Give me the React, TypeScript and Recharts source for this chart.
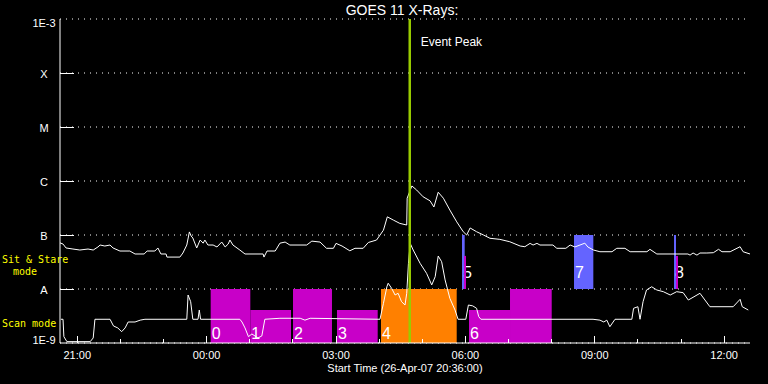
import { ComposedChart, Line, XAxis, YAxis, CartesianGrid, ReferenceArea, ReferenceLine } from "recharts";

// hours since start (26-Apr-07 20:36), flux in W/m^2
const longChannel: [number, number][] = [
  [0, 7.15e-8], [0.07, 6.8e-8], [0.14, 5.75e-8], [0.3, 5.5e-8], [0.46, 5.27e-8], [0.65, 5.5e-8],
  [0.77, 5.27e-8], [0.88, 6.0e-8], [0.93, 6.52e-8], [1.04, 6.25e-8], [1.16, 6.52e-8], [1.23, 5.75e-8],
  [1.39, 5.05e-8], [1.62, 5.05e-8], [1.74, 4.45e-8], [1.95, 4.45e-8], [2.02, 5.05e-8], [2.2, 5.05e-8],
  [2.27, 5.75e-8], [2.34, 4.45e-8], [2.46, 4.45e-8], [2.48, 3.9e-8], [2.78, 3.9e-8], [2.85, 4.64e-8],
  [2.94, 6.52e-8], [3.0, 1.14e-7], [3.04, 9.6e-8], [3.08, 8.8e-8], [3.17, 5.75e-8], [3.25, 8.06e-8],
  [3.32, 7.06e-8], [3.36, 8.06e-8], [3.43, 6.52e-8], [3.55, 6.52e-8], [3.64, 6.0e-8], [3.75, 7.4e-8],
  [3.83, 6.0e-8], [3.9, 6.8e-8], [3.94, 8.06e-8], [4.01, 6.52e-8], [4.17, 5.27e-8], [4.29, 4.45e-8],
  [4.71, 4.45e-8], [4.73, 3.9e-8], [4.8, 5.05e-8], [4.99, 5.05e-8], [5.1, 7.06e-8], [5.22, 7.4e-8],
  [5.33, 6.52e-8], [5.72, 6.52e-8], [5.84, 7.7e-8], [6.03, 7.4e-8], [6.18, 5.67e-8], [6.34, 5.67e-8],
  [6.4, 7.0e-8], [6.54, 6.25e-8], [6.72, 5.1e-8], [6.84, 5.67e-8], [7.03, 5.67e-8], [7.15, 7.27e-8],
  [7.34, 8.06e-8], [7.5, 1.23e-7], [7.59, 2.17e-7], [7.73, 1.89e-7], [7.88, 1.64e-7], [8.04, 1.53e-7],
  [8.05, 4.8e-7], [8.16, 8.1e-7], [8.27, 6.8e-7], [8.42, 5.1e-7], [8.58, 4.3e-7], [8.67, 3.3e-7],
  [8.77, 6.2e-7], [8.89, 4.8e-7], [9.04, 2.9e-7], [9.2, 1.75e-7], [9.35, 1.15e-7], [9.43, 1.0e-7],
  [9.51, 1.35e-7], [9.66, 1.15e-7], [9.82, 1.0e-7], [9.97, 8.7e-8], [10.2, 8.3e-8], [10.43, 7.5e-8],
  [10.67, 6.25e-8], [10.78, 6.07e-8], [10.9, 7.0e-8], [10.97, 6.52e-8], [11.06, 7.0e-8], [11.13, 6.52e-8],
  [11.43, 6.52e-8], [11.52, 5.67e-8], [11.73, 5.67e-8], [11.83, 6.52e-8], [11.94, 6.0e-8], [12.17, 7.06e-8],
  [12.24, 6.0e-8], [12.37, 5.27e-8], [12.52, 4.9e-8], [12.8, 4.9e-8], [12.91, 5.67e-8], [13.1, 5.67e-8],
  [13.22, 4.9e-8], [13.61, 4.9e-8], [13.68, 5.43e-8], [13.84, 4.45e-8], [14.56, 4.45e-8], [14.61, 4.24e-8],
  [14.68, 4.64e-8], [14.77, 4.24e-8], [14.84, 4.64e-8], [15.0, 4.64e-8], [15.15, 4.7e-8], [15.27, 5.43e-8],
  [15.35, 4.9e-8], [15.54, 4.9e-8], [15.77, 6.07e-8], [15.84, 4.9e-8], [16.0, 4.45e-8],
];

const shortChannel: [number, number][] = [
  [0.02, 2.75e-9], [0.07, 2.75e-9], [0.09, 1.31e-9], [0.16, 1.06e-9], [0.7, 1.06e-9], [0.77, 1.24e-9],
  [0.81, 2.75e-9], [1.16, 2.75e-9], [1.24, 2.07e-9], [1.34, 1.9e-9], [1.43, 1.62e-9], [1.51, 1.9e-9],
  [1.58, 2.45e-9], [1.74, 2.45e-9], [1.86, 2.65e-9], [1.97, 2.75e-9], [2.94, 2.75e-9], [2.97, 7.74e-9],
  [3.03, 5.82e-9], [3.08, 2.75e-9], [3.2, 2.75e-9], [3.23, 4.08e-9], [3.26, 2.75e-9], [4.17, 2.75e-9],
  [4.22, 2.45e-9], [4.29, 1.9e-9], [4.37, 1.31e-9], [4.45, 1.47e-9], [4.59, 1.24e-9], [4.68, 1.35e-9],
  [4.75, 2.75e-9], [5.1, 2.87e-9], [5.57, 2.87e-9], [5.68, 2.65e-9], [5.8, 2.87e-9], [7.42, 2.75e-9],
  [7.5, 5.43e-9], [7.58, 1.1e-8], [7.61, 1.28e-8], [7.69, 1.03e-8], [7.77, 7.74e-9], [7.84, 8.33e-9],
  [7.92, 5.82e-9], [8.0, 5.05e-9], [8.04, 8.33e-9], [8.08, 2.99e-8], [8.12, 7.0e-8], [8.19, 5.27e-8],
  [8.35, 2.99e-8], [8.5, 1.95e-8], [8.62, 1.19e-8], [8.7, 1.69e-8], [8.77, 4.08e-8], [8.85, 3.2e-8],
  [8.93, 1.47e-8], [9.04, 6.72e-9], [9.16, 4.08e-9], [9.23, 2.75e-9], [9.41, 2.75e-9], [9.47, 5.05e-9],
  [9.57, 4.87e-9], [9.66, 4.39e-9], [9.71, 3.07e-9], [9.76, 2.75e-9], [12.36, 2.75e-9], [12.52, 2.65e-9],
  [12.61, 2.45e-9], [12.68, 2.65e-9], [12.75, 2.0e-9], [12.87, 2.75e-9], [13.26, 2.75e-9], [13.3, 4.39e-9],
  [13.4, 4.7e-9], [13.45, 2.75e-9], [13.52, 5.82e-9], [13.6, 9.58e-9], [13.72, 1.1e-8], [13.84, 9.58e-9],
  [13.99, 8.92e-9], [14.15, 7.74e-9], [14.3, 8.92e-9], [14.45, 8.55e-9], [14.57, 6.25e-9], [14.84, 8.33e-9],
  [15.07, 4.7e-9], [15.61, 4.7e-9], [15.77, 6.44e-9], [15.82, 4.7e-9], [15.96, 4.08e-9],
];

// scan mode rasters: start/end hour, top of the block
const scanBlocks = [
  { name: "0", start: 3.494, end: 4.413, top: 1e-8 },
  { name: "1", start: 4.413, end: 5.357, top: 4.1e-9 },
  { name: "2", start: 5.403, end: 6.307, top: 1e-8 },
  { name: "3", start: 6.423, end: 7.367, top: 4.1e-9 },
  { name: "4", start: 7.443, end: 9.199, top: 1e-8 },
  { name: "6", start: 9.484, end: 10.435, top: 4.1e-9 },
  { name: "", start: 10.435, end: 11.402, top: 1e-8 },
];
const flareScan = "4";

// sit & stare pointings
const sitBlocks = [
  { name: "5", start: 9.322, end: 9.384 },
  { name: "7", start: 11.919, end: 12.367 },
  { name: "8", start: 14.238, end: 14.284 },
];
const sitScanStrips = [
  { start: 9.368, end: 9.414, top: 4.1e-8 },
  { start: 14.284, end: 14.33, top: 4.1e-8 },
];

const eventPeakHour = 8.11;

const fluxTicks = [1e-9, 1e-8, 1e-7, 1e-6, 1e-5, 1e-4, 1e-3];
const fluxLabels = ["1E-9", "A", "B", "C", "M", "X", "1E-3"];

const hourTicks = [0.4, 1.4, 2.4, 3.4, 4.4, 5.4, 6.4, 7.4, 8.4, 9.4, 10.4, 11.4, 12.4, 13.4, 14.4, 15.4];
const labelHours = [0.4, 3.4, 6.4, 9.4, 12.4, 15.4];
const timeLabels = ["21:00", "00:00", "03:00", "06:00", "09:00", "12:00"];

const FONT = "'Liberation Sans', Arial, sans-serif";
const MONO = "'DejaVu Sans Mono', monospace";
const MAGENTA = "#c800c8";
const ORANGE = "#ff8000";
const BLUE = "#6464ff";
const PEAK = "#99cc00";

const longData = longChannel.map(([t, v]) => ({ t, v }));
const shortData = shortChannel.map(([t, v]) => ({ t, v }));

const fluxIndex = (v: number) => fluxTicks.findIndex((f) => Math.abs(Math.log10(f / v)) < 0.01);
const labelIndex = (h: number) => labelHours.findIndex((l) => Math.abs(l - h) < 0.01);

const BottomTick = ({ x, y, payload }: any) => {
  const i = labelIndex(payload.value);
  return (
    <g>
      <line x1={x} x2={x} y1={y} y2={y - (i >= 0 ? 7 : 4)} stroke="#fff" shapeRendering="crispEdges" />
      {i >= 0 && (
        <text x={x} y={y + 16} textAnchor="middle" fill="#fff" fontSize={11} fontFamily={FONT}>
          {timeLabels[i]}
        </text>
      )}
    </g>
  );
};

const TopTick = ({ x, y, payload }: any) => {
  const i = labelIndex(payload.value);
  return <line x1={x} x2={x} y1={y} y2={y + (i >= 0 ? 7 : 4)} stroke="#fff" shapeRendering="crispEdges" />;
};

const LeftTick = ({ x, y, payload }: any) => {
  const i = fluxIndex(payload.value);
  const last = fluxTicks.length - 1;
  const dy = i === 0 ? 1 : i === last ? 8 : 4.5;
  return (
    <g>
      {i > 0 && i < last && (
        <line x1={x} x2={x + 14} y1={y} y2={y} stroke="#fff" shapeRendering="crispEdges" />
      )}
      <text x={x - 16} y={y + dy} textAnchor="middle" fill="#fff" fontSize={11} fontFamily={FONT}>
        {fluxLabels[i]}
      </text>
    </g>
  );
};

const RightTick = ({ x, y, payload }: any) => {
  const i = fluxIndex(payload.value);
  if (i <= 0 || i >= fluxTicks.length - 1) return <g />;
  return <line x1={x} x2={x - 14} y1={y} y2={y} stroke="#fff" shapeRendering="crispEdges" />;
};

const blockLabel = (name: string, lift: number) => (props: any) => {
  const vb = props.viewBox;
  if (!vb || !name) return null;
  return (
    <text x={vb.x + 1} y={vb.y + vb.height - lift} fill="#fff" fontSize={16} fontFamily={FONT}>
      {name}
    </text>
  );
};

const peakLabel = (props: any) => {
  const vb = props.viewBox;
  return (
    <text x={vb.x + 11} y={vb.y + 27} fill="#fff" fontSize={12} fontFamily={FONT}>
      Event Peak
    </text>
  );
};

export default function App() {
  return (
    <div style={{ position: "absolute", left: 0, top: 0, width: 768, height: 384, background: "#000" }}>
      <ComposedChart width={768} height={384} margin={{ top: 19, right: 18, bottom: 0, left: 0 }}>
        <CartesianGrid vertical={false} stroke="#fff" strokeDasharray="1 5" />
        <XAxis
          dataKey="t"
          type="number"
          domain={[0, 16]}
          allowDataOverflow
          ticks={hourTicks}
          interval={0}
          height={41}
          tickSize={0}
          tickMargin={0}
          tickLine={false}
          axisLine={{ stroke: "#fff" }}
          tick={<BottomTick />}
        />
        <XAxis
          xAxisId="top"
          orientation="top"
          dataKey="t"
          type="number"
          domain={[0, 16]}
          allowDataOverflow
          ticks={hourTicks}
          interval={0}
          height={0}
          tickSize={0}
          tickMargin={0}
          tickLine={false}
          axisLine={{ stroke: "#fff" }}
          tick={<TopTick />}
        />
        <YAxis
          type="number"
          scale="log"
          domain={[1e-9, 1e-3]}
          allowDataOverflow
          ticks={fluxTicks}
          interval={0}
          width={60}
          tickSize={0}
          tickMargin={0}
          tickLine={false}
          axisLine={{ stroke: "#fff" }}
          tick={<LeftTick />}
        />
        <YAxis
          yAxisId="right"
          orientation="right"
          type="number"
          scale="log"
          domain={[1e-9, 1e-3]}
          allowDataOverflow
          ticks={fluxTicks}
          interval={0}
          width={0}
          tickSize={0}
          tickMargin={0}
          tickLine={false}
          axisLine={{ stroke: "#fff" }}
          tick={<RightTick />}
        />
        {scanBlocks.map((b, i) => (
          <ReferenceArea
            key={"scan" + i}
            x1={b.start}
            x2={b.end}
            y1={1e-9}
            y2={b.top}
            fill={b.name === flareScan ? ORANGE : MAGENTA}
            fillOpacity={1}
            stroke="none"
            ifOverflow="visible"
            label={blockLabel(b.name, 4)}
          />
        ))}
        {sitBlocks.map((b, i) => (
          <ReferenceArea
            key={"sit" + i}
            x1={b.start}
            x2={b.end}
            y1={1e-8}
            y2={1e-7}
            fill={BLUE}
            fillOpacity={1}
            stroke="none"
            ifOverflow="visible"
            label={blockLabel(b.name, 11)}
          />
        ))}
        {sitScanStrips.map((b, i) => (
          <ReferenceArea
            key={"strip" + i}
            x1={b.start}
            x2={b.end}
            y1={1e-8}
            y2={b.top}
            fill={MAGENTA}
            fillOpacity={1}
            stroke="none"
            ifOverflow="visible"
          />
        ))}
        <Line data={longData} dataKey="v" type="linear" stroke="#fff" strokeWidth={1} dot={false} isAnimationActive={false} />
        <Line data={shortData} dataKey="v" type="linear" stroke="#fff" strokeWidth={1} dot={false} isAnimationActive={false} />
        <ReferenceLine x={eventPeakHour} stroke={PEAK} strokeWidth={2.5} label={peakLabel} />
      </ComposedChart>
      <svg width={768} height={384} style={{ position: "absolute", left: 0, top: 0, pointerEvents: "none" }}>
        <text x={402} y={15} textAnchor="middle" fill="#fff" fontSize={14} fontFamily={FONT}>
          GOES 11 X-Rays:
        </text>
        <text x={405} y={372} textAnchor="middle" fill="#fff" fontSize={11} fontFamily={FONT}>
          Start Time (26-Apr-07 20:36:00)
        </text>
        <text x={2} y={263} fill="#ffff00" fontSize={10} fontFamily={MONO}>
          Sit &amp; Stare
        </text>
        <text x={13} y={275} fill="#ffff00" fontSize={10} fontFamily={MONO}>
          mode
        </text>
        <text x={2} y={327} fill="#ffff00" fontSize={10} fontFamily={MONO}>
          Scan mode
        </text>
      </svg>
    </div>
  );
}
